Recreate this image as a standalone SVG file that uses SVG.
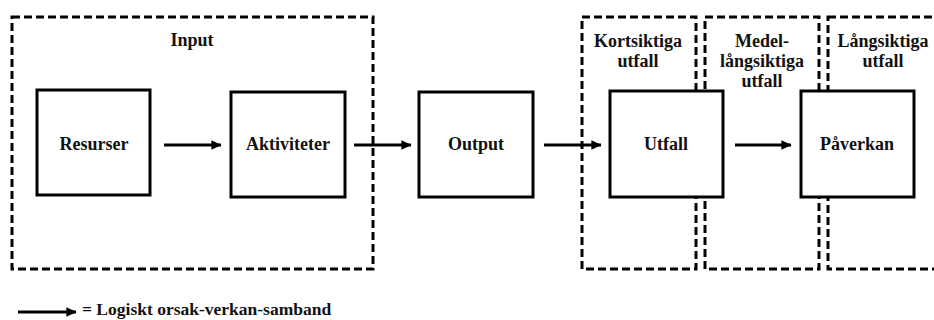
<svg xmlns="http://www.w3.org/2000/svg" width="934" height="320" viewBox="0 0 934 320">
  <style>
    .zone { fill: none; stroke: #000; stroke-width: 3; stroke-dasharray: 8 4; }
    .box { fill: #fff; stroke: #000; stroke-width: 3; }
    .lbl { font-family: "Liberation Serif", "Times New Roman", serif; font-weight: bold; font-size: 18px; fill: #111; text-anchor: middle; }
    .legend { font-family: "Liberation Serif", "Times New Roman", serif; font-weight: bold; font-size: 17.5px; fill: #111; }
    .arrow { stroke: #000; stroke-width: 3; fill: none; marker-end: url(#head); }
  </style>
  <defs>
    <marker id="head" markerWidth="4" markerHeight="4" refX="3.2" refY="2" orient="auto" markerUnits="strokeWidth">
      <path d="M0,0.4 L3.4,2 L0,3.6 Z" fill="#000"/>
    </marker>
  </defs>
  <rect width="934" height="320" fill="#fff"/>

  <!-- dashed phase zones -->
  <g id="zones">
    <g id="zone-input">
      <rect class="zone" x="12" y="17" width="361" height="252"/>
      <text class="lbl" x="192" y="46">Input</text>
    </g>
    <g id="zone-short">
      <rect class="zone" x="582" y="17" width="114" height="252"/>
      <text class="lbl" x="638" y="47">Kortsiktiga</text>
      <text class="lbl" x="638" y="67">utfall</text>
    </g>
    <g id="zone-medium">
      <rect class="zone" x="705" y="17" width="114" height="252"/>
      <text class="lbl" x="762" y="47">Medel-</text>
      <text class="lbl" x="762" y="67">långsiktiga</text>
      <text class="lbl" x="762" y="87">utfall</text>
    </g>
    <g id="zone-long">
      <rect class="zone" x="828" y="17" width="140" height="252"/>
      <text class="lbl" x="883" y="47">Långsiktiga</text>
      <text class="lbl" x="883" y="67">utfall</text>
    </g>
  </g>

  <!-- connectors -->
  <g id="connectors">
    <line class="arrow" x1="164" y1="145" x2="221" y2="145"/>
    <line class="arrow" x1="354" y1="145" x2="411" y2="145"/>
    <line class="arrow" x1="544" y1="145" x2="601" y2="145"/>
    <line class="arrow" x1="735" y1="145" x2="791" y2="145"/>
  </g>

  <!-- process nodes -->
  <g id="resurser">
    <rect class="box" x="37" y="90" width="113" height="105"/>
    <text class="lbl" x="94" y="150">Resurser</text>
  </g>
  <g id="aktiviteter">
    <rect class="box" x="231" y="92" width="114" height="105"/>
    <text class="lbl" x="288" y="150">Aktiviteter</text>
  </g>
  <g id="output">
    <rect class="box" x="419" y="92" width="114" height="105"/>
    <text class="lbl" x="476" y="150">Output</text>
  </g>
  <g id="utfall">
    <rect class="box" x="610" y="91" width="113" height="106"/>
    <text class="lbl" x="666" y="150">Utfall</text>
  </g>
  <g id="paverkan">
    <rect class="box" x="801" y="91" width="113" height="106"/>
    <text class="lbl" x="857" y="150">Påverkan</text>
  </g>

  <!-- legend -->
  <g id="legend">
    <line class="arrow" x1="18" y1="312" x2="76" y2="312"/>
    <text class="legend" x="82" y="315">= Logiskt orsak-verkan-samband</text>
  </g>
</svg>
